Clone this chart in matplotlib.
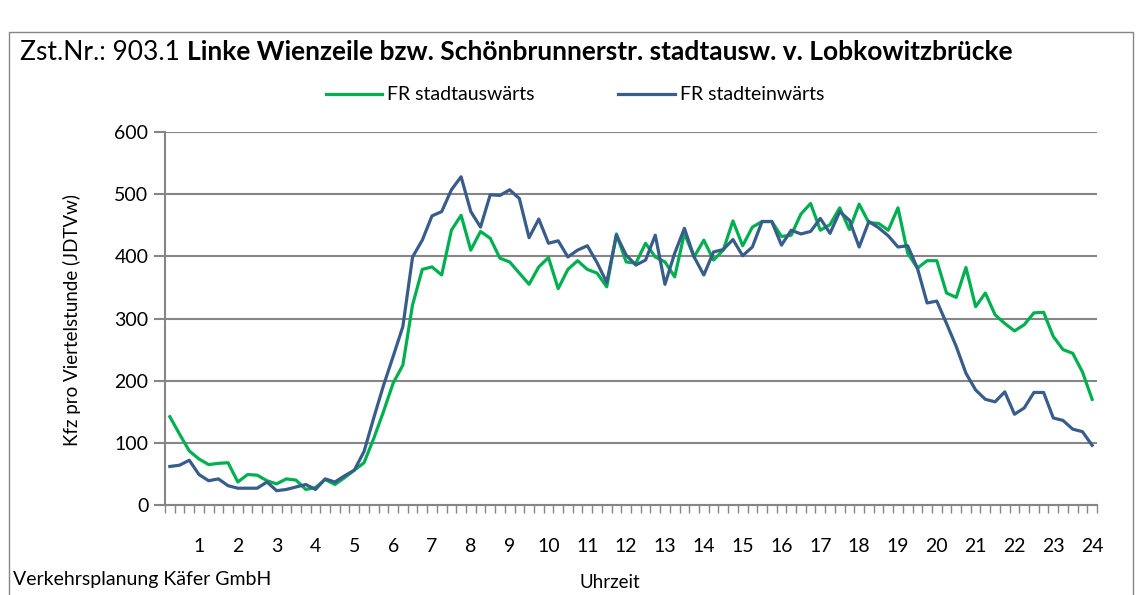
import matplotlib
matplotlib.use('Agg')
import matplotlib.pyplot as plt
from matplotlib.patches import Rectangle

plt.rcParams['font.family'] = ['Lato', 'DejaVu Sans']

# quarter-hour counts (0:15 ... 24:00)
stadtauswaerts = [142, 114, 87, 74, 65, 67, 68, 37, 49, 48, 39, 34, 42, 40, 25, 28,
                  41, 33, 44, 56, 68, 107, 150, 196, 225, 322, 379, 383, 370, 442, 466, 410,
                  440, 429, 397, 391, 373, 355, 383, 398, 348, 379, 393, 379, 373, 351, 436, 391,
                  389, 421, 399, 391, 367, 437, 399, 426, 394, 410, 457, 417, 447, 456, 456, 432,
                  434, 468, 485, 442, 451, 478, 443, 484, 454, 453, 442, 478, 405, 381, 393, 393,
                  341, 334, 382, 319, 341, 306, 292, 280, 290, 309, 310, 271, 250, 244, 214, 170]
stadteinwaerts = [62, 64, 72, 49, 39, 42, 31, 27, 27, 27, 37, 23, 25, 29, 33, 25,
                  42, 37, 47, 56, 86, 140, 192, 239, 287, 399, 426, 465, 472, 507, 528, 472,
                  447, 499, 498, 507, 493, 430, 460, 421, 425, 399, 410, 417, 390, 358, 434, 402,
                  386, 394, 434, 355, 405, 445, 399, 370, 407, 411, 427, 401, 415, 456, 456, 418,
                  442, 436, 440, 461, 437, 472, 458, 415, 456, 446, 433, 415, 417, 381, 325, 328,
                  292, 255, 212, 185, 170, 166, 182, 146, 156, 181, 181, 140, 136, 122, 118, 96]
stunden = list(range(1, 25))
y_ticks = [0, 100, 200, 300, 400, 500, 600]

zeit = [(i + 1) * 0.25 for i in range(len(stadtauswaerts))]

W, H = 1139, 595
fig = plt.figure(figsize=(W / 100, H / 100), dpi=100)
fig.patch.set_facecolor('white')

# outer chart frame
fig.patches.append(Rectangle((9 / W, -0.05), 1124 / W, 1 - 32 / H + 0.05,
                             transform=fig.transFigure, fill=False,
                             edgecolor='#868686', linewidth=1.0))

ax = fig.add_axes([165 / W, 1 - 505 / H, 932 / W, 373 / H])
grid_col = '#868686'

ax.plot(zeit, stadtauswaerts, color='#00B050', lw=2.3, label='FR stadtauswärts')
ax.plot(zeit, stadteinwaerts, color='#385D8A', lw=2.3, label='FR stadteinwärts')

ax.set_xlim(0.125, 24.125)
ax.set_ylim(0, 600)
ax.set_yticks(y_ticks)
ax.set_xticks(stunden)
ax.set_xticks([0.125 + 0.25 * k for k in range(97)], minor=True)
ax.tick_params(axis='x', which='major', length=0, pad=24, labelsize=14)
ax.tick_params(axis='x', which='minor', length=6, width=1, color=grid_col, direction='out')
ax.tick_params(axis='y', length=8, width=1.5, color=grid_col, labelsize=14, pad=4)
ax.yaxis.grid(True, color=grid_col, lw=1.5)
ax.set_axisbelow(True)
for s in ['top', 'right']:
    ax.spines[s].set_visible(False)
for s in ['left', 'bottom']:
    ax.spines[s].set_color(grid_col)
    ax.spines[s].set_linewidth(1.5)

fig.text(72 / W, 1 - 320 / H, 'Kfz pro Viertelstunde (JDTVw)', rotation=90,
         ha='center', va='center', fontsize=13.5)
fig.text(610 / W, 1 - 582 / H, 'Uhrzeit', ha='center', va='center', fontsize=13.5)
fig.text(13 / W, 1 - 580 / H, 'Verkehrsplanung Käfer GmbH', ha='left', va='center', fontsize=14)

# title: regular part + bold part
t1 = fig.text(20 / W, 1 - 52 / H, 'Zst.Nr.: 903.1 ', ha='left', va='center', fontsize=19)
fig.canvas.draw()
bb = t1.get_window_extent()
fig.text(bb.x1 / W, 1 - 52 / H,
         'Linke Wienzeile bzw. Schönbrunnerstr. stadtausw. v. Lobkowitzbrücke',
         ha='left', va='center', fontsize=19, fontweight='bold')

fig.legend(loc='center', bbox_to_anchor=(575 / W, 1 - 95 / H), ncol=2, frameon=False,
           fontsize=14, handlelength=2.9, columnspacing=4.3, handletextpad=0.25)

fig.savefig('out.png', dpi=100)
